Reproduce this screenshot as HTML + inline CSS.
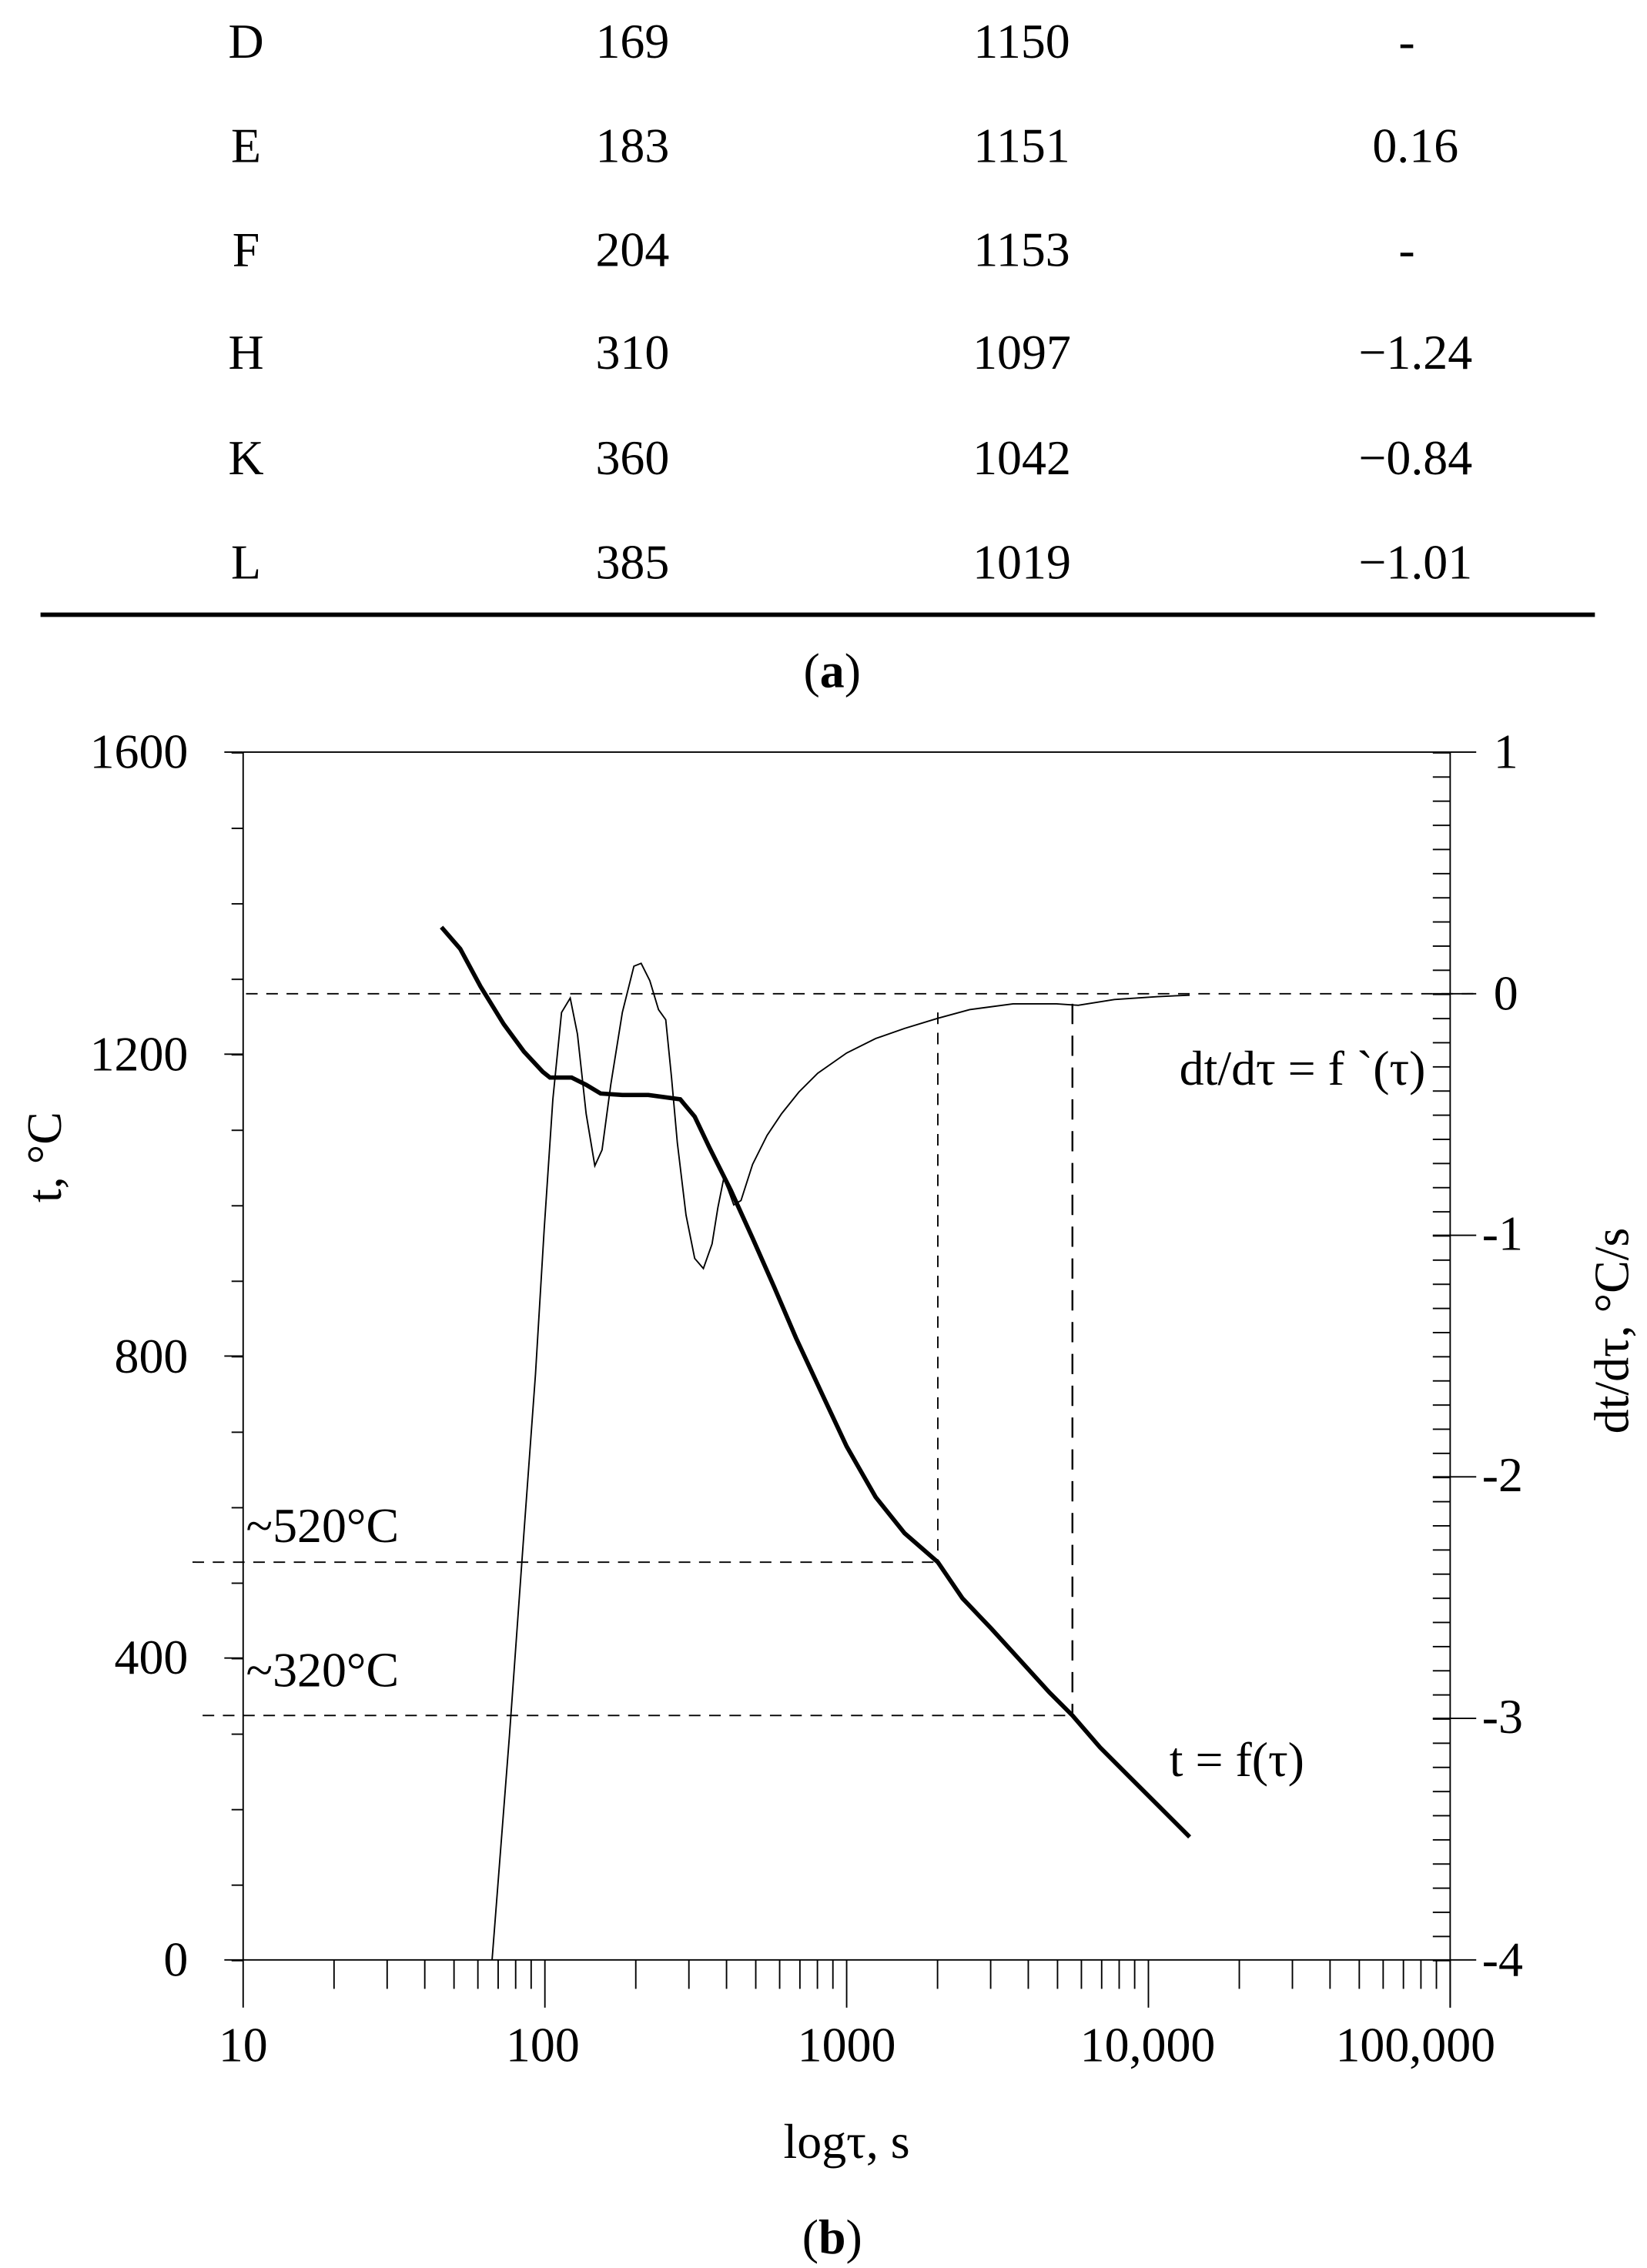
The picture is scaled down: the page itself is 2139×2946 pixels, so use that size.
<!DOCTYPE html>
<html><head><meta charset="utf-8"><style>
html,body{margin:0;padding:0;background:#fff;}
svg{display:block;}
text{font-family:"Liberation Serif",serif;fill:#000;}
</style></head><body>
<svg width="2139" height="2946" viewBox="0 0 1138 1568" preserveAspectRatio="none" xmlns="http://www.w3.org/2000/svg">
<defs>
<pattern id="pl" patternUnits="userSpaceOnUse" x="0" y="520" width="1138" height="52.1875"><line x1="0" y1="0.5" x2="1138" y2="0.5" stroke="#000" stroke-width="1"/></pattern>
<pattern id="pr" patternUnits="userSpaceOnUse" x="0" y="520" width="1138" height="16.7"><line x1="0" y1="0.5" x2="1138" y2="0.5" stroke="#000" stroke-width="1"/></pattern>
<g id="dec" stroke="#000" stroke-width="1">
<line x1="62.8" y1="1355" x2="62.8" y2="1375"/><line x1="99.5" y1="1355" x2="99.5" y2="1375"/>
<line x1="125.5" y1="1355" x2="125.5" y2="1375"/><line x1="145.7" y1="1355" x2="145.7" y2="1375"/>
<line x1="162.2" y1="1355" x2="162.2" y2="1375"/><line x1="176.2" y1="1355" x2="176.2" y2="1375"/>
<line x1="188.3" y1="1355" x2="188.3" y2="1375"/><line x1="199" y1="1355" x2="199" y2="1375"/>
<line x1="208.5" y1="1355" x2="208.5" y2="1388"/>
</g>
</defs>
<g font-size="34" text-anchor="middle">
<text x="170" y="40">D</text><text x="437" y="40">169</text><text x="706" y="40">1150</text><text x="972" y="40">-</text>
<text x="170" y="112">E</text><text x="437" y="112">183</text><text x="706" y="112">1151</text><text x="978" y="112">0.16</text>
<text x="170" y="184">F</text><text x="437" y="184">204</text><text x="706" y="184">1153</text><text x="972" y="184">-</text>
<text x="170" y="255">H</text><text x="437" y="255">310</text><text x="706" y="255">1097</text><text x="978" y="255">−1.24</text>
<text x="170" y="328">K</text><text x="437" y="328">360</text><text x="706" y="328">1042</text><text x="978" y="328">−0.84</text>
<text x="170" y="400">L</text><text x="437" y="400">385</text><text x="706" y="400">1019</text><text x="978" y="400">−1.01</text>
<text x="575" y="475">(<tspan font-weight="bold">a</tspan>)</text>
<text x="575" y="1558">(<tspan font-weight="bold">b</tspan>)</text>
</g>
<line x1="28" y1="425" x2="1102" y2="425" stroke="#000" stroke-width="3"/>
<!-- ticks -->
<rect x="160" y="519.5" width="8" height="837" fill="url(#pl)"/>
<rect x="990" y="519.5" width="12" height="837" fill="url(#pr)"/>
<g stroke="#000" stroke-width="1">
<line x1="155" y1="1146.3" x2="168" y2="1146.3"/><line x1="155" y1="937.5" x2="168" y2="937.5"/><line x1="155" y1="728.8" x2="168" y2="728.8"/>
<line x1="990" y1="687" x2="1020" y2="687"/><line x1="990" y1="854" x2="1020" y2="854"/><line x1="990" y1="1021" x2="1020" y2="1021"/><line x1="990" y1="1188" x2="1020" y2="1188"/>
</g>
<use href="#dec" x="168"/><use href="#dec" x="376.5"/><use href="#dec" x="585"/><use href="#dec" x="793.5"/>
<!-- axes box -->
<g stroke="#000" stroke-width="1" fill="none">
<line x1="168" y1="520" x2="1002" y2="520"/>
<line x1="168" y1="520" x2="168" y2="1388"/>
<line x1="1002" y1="520" x2="1002" y2="1388"/>
<line x1="155" y1="1355" x2="1020" y2="1355"/>
<line x1="155" y1="520" x2="168" y2="520"/>
<line x1="1002" y1="520" x2="1020" y2="520"/>
</g>
<g font-size="34" text-anchor="end">
<text x="130" y="531">1600</text><text x="130" y="740">1200</text><text x="130" y="949">800</text><text x="130" y="1157">400</text><text x="130" y="1366">0</text>
</g>
<g font-size="34" text-anchor="start">
<text x="1032" y="531">1</text><text x="1032" y="698">0</text><text x="1024" y="864">-1</text><text x="1024" y="1031">-2</text><text x="1024" y="1198">-3</text><text x="1024" y="1366">-4</text>
</g>
<g font-size="34" text-anchor="middle">
<text x="168" y="1425">10</text><text x="375" y="1425">100</text><text x="585" y="1425">1000</text><text x="793" y="1425">10,000</text><text x="978" y="1425">100,000</text>
<text x="585" y="1492">logτ, s</text>
</g>
<text font-size="34" transform="translate(42,800) rotate(-90)" text-anchor="middle">t, °C</text>
<text font-size="34" transform="translate(1125,920) rotate(-90)" text-anchor="middle">dt/dτ, °C/s</text>
<text font-size="34" x="985" y="750" text-anchor="end">dt/dτ = f `(τ)</text>
<text font-size="34" x="808" y="1228">t = f(τ)</text>
<text font-size="34" x="170" y="1066">~520°C</text>
<text font-size="34" x="170" y="1166">~320°C</text>
<!-- dashed -->
<g stroke="#000" stroke-width="1" stroke-dasharray="8,6" fill="none">
<line x1="170" y1="687" x2="1020" y2="687"/>
<line x1="648" y1="700" x2="648" y2="1080"/>
<line x1="133" y1="1080" x2="648" y2="1080"/>
<line x1="140" y1="1186" x2="741" y2="1186"/>
</g>
<line x1="741" y1="694" x2="741" y2="1186" stroke="#000" stroke-width="1.3" stroke-dasharray="14,8"/>
<!-- derivative thin -->
<polyline fill="none" stroke="#000" stroke-width="1" points="340,1355 352,1200 362,1060 370,950 376,850 382,760 388,700 394,690 399,715 405,770 411,806 416,795 422,750 430,700 438,668 443,666 449,678 455,698 460,705 464,745 468,790 474,840 480,870 486,877 492,860 496,835 500,815 503,822 507,833 512,830 520,805 530,785 540,770 552,755 565,742 585,728 605,718 625,711 648,704 670,698 700,694 730,694 745,695 770,691 800,689 822,688"/>
<!-- temperature thick -->
<polyline fill="none" stroke="#000" stroke-width="3" points="305,641 318,656 332,682 348,708 362,727 375,741 380,745 395,745 405,750 415,756 430,757 448,757 470,760 480,772 490,793 505,823 520,856 535,890 550,925 570,968 585,1000 605,1035 625,1060 648,1080 665,1105 685,1126 705,1148 725,1170 741,1186 760,1208 780,1228 800,1248 822,1270"/>
</svg>
</body></html>
